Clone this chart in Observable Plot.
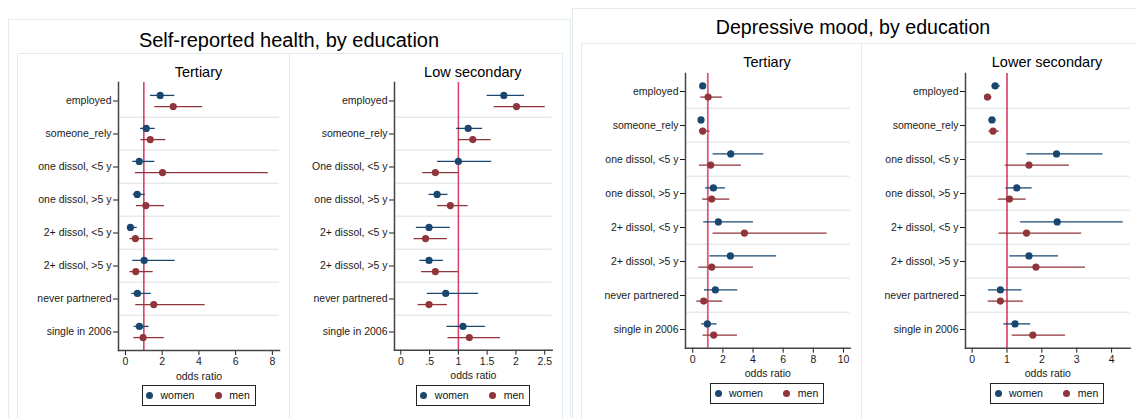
<!DOCTYPE html>
<html><head><meta charset="utf-8">
<script src="https://cdn.jsdelivr.net/npm/d3@7"></script>
<script src="https://cdn.jsdelivr.net/npm/@observablehq/plot@0.6"></script>
<style>
body{margin:0;background:#fff;font-family:"Liberation Sans",Arial,sans-serif;}
#root{position:relative;width:1136px;height:418px;overflow:hidden;background:#fff;}
.box{position:absolute;border:1.5px solid #e3ebee;box-sizing:border-box;}
.title{position:absolute;transform:translate(-50%,-50%);white-space:nowrap;color:#000;line-height:1;}
.legend{position:absolute;border:1px solid #222;box-sizing:border-box;display:flex;align-items:center;font-size:10.5px;color:#111;padding-left:3.5px;}
.legend .dot{width:7px;height:7px;border-radius:50%;display:inline-block;margin-right:7.5px;}
.plotsvg{position:absolute;}
</style></head>
<body><div id="root"></div>
<script>
const NAVY = "#1a476f", MAROON = "#90353b";

// categories
const cats1 = ["employed","someone_rely","one dissol, <5 y","one dissol, >5 y","2+ dissol, <5 y","2+ dissol, >5 y","never partnered","single in 2006"];
const cats2 = ["employed","someone_rely","One dissol, <5 y","one dissol, >5 y","2+ dissol, <5 y","2+ dissol, >5 y","never partnered","single in 2006"];
const cats3 = cats1;
const cats4 = cats1;

// Self-reported health, Tertiary
const w1est = [1.89,1.13,0.75,0.64,0.27,1.02,0.65,0.76];
const w1lo  = [1.36,0.82,0.40,0.42,0.15,0.40,0.35,0.47];
const w1hi  = [2.69,1.62,1.60,1.07,0.64,2.71,1.40,1.29];
const m1est = [2.60,1.35,2.02,1.11,0.54,0.56,1.54,0.96];
const m1lo  = [1.60,0.84,0.54,0.60,0.24,0.24,0.56,0.45];
const m1hi  = [4.21,2.20,7.78,2.13,1.51,1.51,4.34,2.11];

// Self-reported health, Low secondary
const w2est = [1.79,1.17,1.00,0.63,0.49,0.49,0.78,1.08];
const w2lo  = [1.50,0.97,0.64,0.49,0.27,0.33,0.46,0.80];
const w2hi  = [2.15,1.42,1.58,0.82,0.86,0.74,1.35,1.47];
const m2est = [2.01,1.25,0.60,0.86,0.43,0.60,0.49,1.19];
const m2lo  = [1.62,1.00,0.38,0.64,0.23,0.36,0.30,0.82];
const m2hi  = [2.51,1.57,1.00,1.17,0.81,1.00,0.81,1.73];

// Depressive mood, Tertiary
const w3est = [0.66,0.55,2.52,1.37,1.70,2.50,1.50,0.97];
const w3lo  = [0.53,0.45,1.35,0.86,0.73,1.13,0.78,0.60];
const w3hi  = [0.86,0.65,4.71,2.17,4.03,5.57,2.99,1.61];
const m3est = [1.02,0.66,1.19,1.26,3.43,1.26,0.73,1.39];
const m3lo  = [0.53,0.44,0.44,0.66,1.35,0.40,0.27,0.68];
const m3hi  = [1.97,1.15,3.23,2.46,8.91,4.03,1.99,2.97];

// Depressive mood, Lower secondary
const w4est = [0.66,0.57,2.42,1.28,2.44,1.63,0.81,1.23];
const w4lo  = [0.57,0.48,1.57,0.97,1.39,1.08,0.47,0.91];
const w4hi  = [0.81,0.69,3.75,1.72,4.33,2.48,1.43,1.68];
const m4est = [0.44,0.60,1.63,1.07,1.56,1.83,0.81,1.74];
const m4lo  = [0.36,0.48,0.95,0.75,0.77,1.04,0.46,1.15];
const m4hi  = [0.57,0.78,2.79,1.55,3.14,3.25,1.47,2.68];

// x ticks and labels
const ticks1 = [0,2,4,6,8],        labels1 = ["0","2","4","6","8"];
const ticks2 = [0,0.5,1,1.5,2,2.5], labels2 = ["0",".5","1","1.5","2","2.5"];
const ticks3 = [0,2,4,6,8,10],     labels3 = ["0","2","4","6","8","10"];
const ticks4 = [0,1,2,3,4],        labels4 = ["0","1","2","3","4"];

const titles = ["Self-reported health, by education","Depressive mood, by education"];
const panelTitles = ["Tertiary","Low secondary","Tertiary","Lower secondary"];
const seriesNames = ["women","men"];
const axisLabel = "odds ratio";

const root = document.getElementById("root");
function el(cls, css, text){
  const d = document.createElement("div");
  d.className = cls; Object.assign(d.style, css);
  if (text != null) d.textContent = text;
  root.appendChild(d); return d;
}

// frames
el("box",{left:"8px",top:"19px",width:"563px",height:"420px"});
el("box",{left:"572px",top:"8px",width:"580px",height:"430px"});
el("box",{left:"16.5px",top:"52.5px",width:"273px",height:"400px"});
el("box",{left:"289px",top:"52.5px",width:"273.5px",height:"400px"});
el("box",{left:"581px",top:"43px",width:"280.5px",height:"400px"});
el("box",{left:"861px",top:"43px",width:"290px",height:"400px"});

const ML = 100, MR = 6, MT = 10, MB = 32;

function panel(cfg){
  const {cats, w, m, domain, ticks, labels, left, top, width, height, rule, ruleW, title, titleY} = cfg;
  const n = cats.length;
  const bw = (height - MT - MB) / n;
  const off = 5.6;
  const rw = cats.map((c,i)=>({c, est:w[0][i], lo:w[1][i], hi:w[2][i]}));
  const rm = cats.map((c,i)=>({c, est:m[0][i], lo:m[1][i], hi:m[2][i]}));
  const fmt = d => labels[ticks.indexOf(d)] ?? String(d);
  const svg = Plot.plot({
    width, height, marginTop:MT, marginBottom:MB, marginLeft:ML, marginRight:MR,
    style:{background:"transparent", fontFamily:"'Liberation Sans', Arial, sans-serif", fontSize:"10.5px", color:"#1a1a1a", overflow:"visible"},
    x:{domain, ticks},
    y:{type:"band", domain:cats, padding:0},
    marks:[
      Plot.ruleY(cats.slice(1), {y:d=>d, dy:-bw/2, stroke:"#e4ebef", strokeWidth:1.5}),
      Plot.ruleX([1], {stroke:rule, strokeWidth:ruleW}),
      Plot.ruleY(rw, {y:"c", x1:"lo", x2:"hi", dy:-off, stroke:NAVY, strokeWidth:1.3}),
      Plot.ruleY(rm, {y:"c", x1:"lo", x2:"hi", dy:off, stroke:MAROON, strokeWidth:1.3}),
      Plot.dot(rw, {x:"est", y:"c", dy:-off, r:3.6, fill:NAVY, stroke:null}),
      Plot.dot(rm, {x:"est", y:"c", dy:off, r:3.6, fill:MAROON, stroke:null}),
      Plot.axisY({tickSize:5, tickPadding:2, label:null}),
      Plot.axisX({ticks, tickFormat:fmt, tickSize:5, tickPadding:2, label:axisLabel, labelAnchor:"center", labelOffset:29, labelArrow:"none"}),
      Plot.frame({anchor:"left", stroke:"#444", strokeWidth:1.5}),
      Plot.frame({anchor:"bottom", stroke:"#444", strokeWidth:1.5})
    ]
  });
  svg.classList.add("plotsvg");
  svg.style.left = left + "px"; svg.style.top = top + "px";
  root.appendChild(svg);
  const cx = left + ML + (width - ML - MR)/2;
  el("title",{left:cx+"px", top:titleY+"px", fontSize:"14.5px"}, title);
  const lg = el("legend",{left:(cx-57)+"px", top:(top+height-MB+35)+"px", width:"114px", height:"20.5px"});
  lg.innerHTML = `<span class="dot" style="background:${NAVY}"></span><span>${seriesNames[0]}</span>`+
    `<span class="dot" style="background:${MAROON};margin-left:20.5px"></span><span>${seriesNames[1]}</span>`;
}

panel({cats:cats1, w:[w1est,w1lo,w1hi], m:[m1est,m1lo,m1hi], domain:[-0.38,8.39], ticks:ticks1, labels:labels1,
  left:18, top:72, width:267, height:310, rule:"#d6405f", ruleW:1.6, title:panelTitles[0], titleY:72});
panel({cats:cats2, w:[w2est,w2lo,w2hi], m:[m2est,m2lo,m2hi], domain:[-0.11,2.63], ticks:ticks2, labels:labels2,
  left:294, top:72.3, width:263.7, height:309.7, rule:"#de3d66", ruleW:1.5, title:panelTitles[1], titleY:72});
panel({cats:cats3, w:[w3est,w3lo,w3hi], m:[m3est,m3lo,m3hi], domain:[-0.48,10.44], ticks:ticks3, labels:labels3,
  left:584.7, top:63.3, width:270.6, height:316.7, rule:"#dc5a7c", ruleW:1.8, title:panelTitles[2], titleY:62});
panel({cats:cats4, w:[w4est,w4lo,w4hi], m:[m4est,m4lo,m4hi], domain:[-0.19,4.53], ticks:ticks4, labels:labels4,
  left:864.7, top:63.3, width:270.6, height:316.7, rule:"#d0103a", ruleW:1.3, title:panelTitles[3], titleY:62});

el("title",{left:"289px", top:"40px", fontSize:"20px"}, titles[0]);
el("title",{left:"853px", top:"28px", fontSize:"19.6px"}, titles[1]);
</script>
</body></html>
